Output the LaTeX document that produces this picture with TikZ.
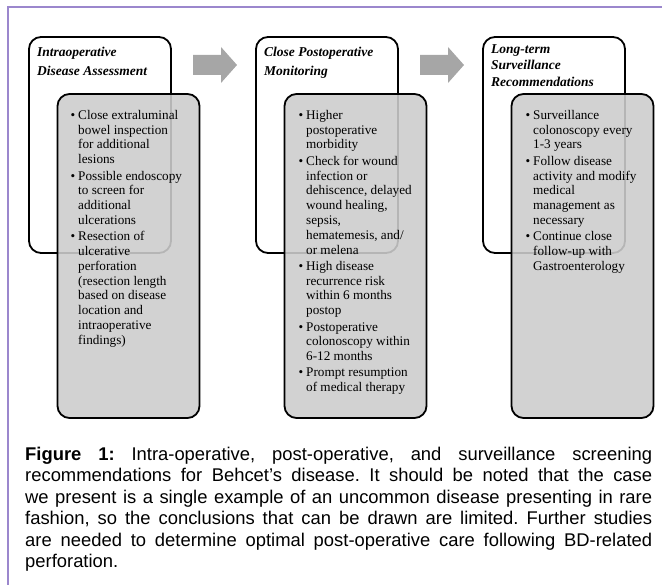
\documentclass[tikz,border=0pt]{standalone}
\usepackage{fontspec}
\setmainfont{Liberation Serif}
\newfontfamily\capfont{Liberation Sans}
\definecolor{framepurple}{RGB}{155,135,205}
\definecolor{boxgrey}{RGB}{204,204,204}
\definecolor{arrowgrey}{RGB}{166,166,166}
\newcommand{\itm}{\llap{\textbullet\hspace{3pt}}}
\frenchspacing

\begin{document}
\begin{tikzpicture}[x=1pt,y=-1pt,
	stage/.style={draw=black,line width=1.8pt,rounded corners=12pt},
	detail/.style={draw=black,line width=1.8pt,rounded corners=12pt,fill=boxgrey,fill opacity=0.89},
	blockarrow/.style={fill=arrowgrey},
	head/.style={anchor=north west,inner sep=0pt,align=left,font=\fontsize{13.5}{19}\selectfont\bfseries\itshape},
	items/.style={anchor=north west,inner sep=0pt,align=left,font=\fontsize{13.2}{14.8}\selectfont}]
	\useasboundingbox (0,0) rectangle (662,585);
	\draw[framepurple,line width=1.3pt] (662,7) -- (8,7) -- (8,585);

	% stage boxes
	\draw[stage] (29,37) rectangle (171,253);
	\draw[stage] (256,37) rectangle (398,253);
	\draw[stage] (483,37) rectangle (625,253);
	\node[head] (intraHead) at (37,47) {Intraoperative\\Disease Assessment};
	\node[head] (postHead) at (264,47) {Close Postoperative\\Monitoring};
	\node[head,font=\fontsize{13.5}{16.5}\selectfont\bfseries\itshape] (survHead) at (491,44) {Long-term\\Surveillance\\Recommendations};

	% arrows between stages
	\fill[blockarrow] (193,65) ++(0,-10) -- ++(28,0) -- ++(0,-8) -- ++(16,18) -- ++(-16,18) -- ++(0,-8) -- ++(-28,0) -- cycle;
	\fill[blockarrow] (420,65) ++(0,-10) -- ++(28,0) -- ++(0,-8) -- ++(16,18) -- ++(-16,18) -- ++(0,-8) -- ++(-28,0) -- cycle;

	% detail boxes
	\draw[detail] (57.5,94) rectangle (199.5,418);
	\draw[detail] (284.5,94) rectangle (426.5,418);
	\draw[detail] (511.5,94) rectangle (653.5,418);
	\node[items] (intraList) at (78,110) {\itm Close extraluminal\\bowel inspection\\for additional\\lesions\\[1.5pt]
		\itm Possible endoscopy\\to screen for\\additional\\ulcerations\\[1.5pt]
		\itm Resection of\\ulcerative\\perforation\\(resection length\\based on disease\\location and\\intraoperative\\findings)};
	\node[items] (postList) at (306,110) {\itm Higher\\postoperative\\morbidity\\[1.5pt]
		\itm Check for wound\\infection or\\dehiscence, delayed\\wound healing,\\sepsis,\\hematemesis, and/\\or melena\\[1.5pt]
		\itm High disease\\recurrence risk\\within 6 months\\postop\\[1.5pt]
		\itm Postoperative\\colonoscopy within\\6-12 months\\[1.5pt]
		\itm Prompt resumption\\of medical therapy};
	\node[items] (survList) at (533,110) {\itm Surveillance\\colonoscopy every\\1-3 years\\[1.5pt]
		\itm Follow disease\\activity and modify\\medical\\management as\\necessary\\[1.5pt]
		\itm Continue close\\follow-up with\\Gastroenterology};

	% caption
	\node[anchor=north west,inner sep=0pt,text width=627pt,align=justify,font=\capfont\fontsize{18.4}{21.5}\selectfont] (caption) at (25,446.5)
		{\tolerance=9999\textbf{Figure 1:} Intra-operative, post-operative, and surveillance screening\linebreak
		recommendations for Behcet’s disease. It should be noted that the case\linebreak
		we present is a single example of an uncommon disease presenting in rare\linebreak
		fashion, so the conclusions that can be drawn are limited. Further studies\linebreak
		are needed to determine optimal post-operative care following BD-related\linebreak
		perforation.};
\end{tikzpicture}
\end{document}
